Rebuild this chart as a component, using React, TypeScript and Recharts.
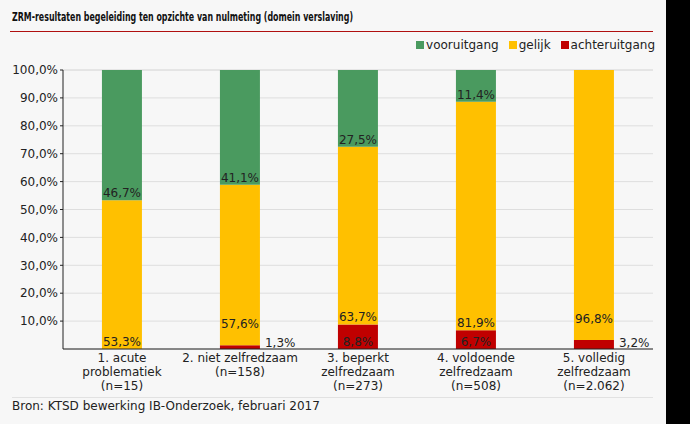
import { BarChart, Bar, XAxis, YAxis, CartesianGrid, LabelList } from "recharts";

const categories = [
  ["1. acute", "problematiek", "(n=15)"],
  ["2. niet zelfredzaam", "(n=158)"],
  ["3. beperkt", "zelfredzaam", "(n=273)"],
  ["4. voldoende", "zelfredzaam", "(n=508)"],
  ["5. volledig", "zelfredzaam", "(n=2.062)"],
];
const achteruitgang = [0, 1.3, 8.8, 6.7, 3.2];
const gelijk = [53.3, 57.6, 63.7, 81.9, 96.8];
const vooruitgang = [46.7, 41.1, 27.5, 11.4, 0];
const yTicks = [10, 20, 30, 40, 50, 60, 70, 80, 90, 100];

const GREEN = "#4a9a5f";
const YELLOW = "#ffc000";
const RED = "#c00000";
const FONT = "'DejaVu Sans', Verdana, sans-serif";

const data = categories.map((c, i) => ({
  name: i,
  achteruitgang: achteruitgang[i],
  gelijk: gelijk[i],
  vooruitgang: vooruitgang[i],
}));

const fmt = (v: number) => v.toFixed(1).replace(".", ",") + "%";

// label at the bottom of each segment; tiny segments get theirs to the right of the bar
// (LabelList dataKey="name" so value = category index)
const makeLabel = (values: number[], below: number[] | null) => (props: any) => {
  const { x, y, width, height, value } = props;
  const i = Number(value);
  const v = values[i];
  if (!v) return null;
  const bottom = Number(y) + Number(height);
  if (v < 5) {
    return (
      <text x={Number(x) + Number(width) + 5} y={bottom - 2} fontSize={12} fontFamily={FONT} fill="#222">
        {fmt(v)}
      </text>
    );
  }
  const lift = below && below[i] > 0 && below[i] < 5 ? 14 : 0;
  return (
    <text
      x={Number(x) + Number(width) / 2}
      y={bottom - 3 - lift}
      textAnchor="middle"
      fontSize={12}
      fontFamily={FONT}
      fill="#222"
    >
      {fmt(v)}
    </text>
  );
};

const CategoryTick = (props: any) => {
  const { x, y, payload } = props;
  const lines = categories[payload.value] || [];
  return (
    <text x={x} y={y + 5} textAnchor="middle" fontSize={12} fontFamily={FONT} fill="#222">
      {lines.map((l, i) => (
        <tspan key={i} x={x} dy={i === 0 ? 0 : 14}>
          {l}
        </tspan>
      ))}
    </text>
  );
};

const legendItems = [
  { label: "vooruitgang", color: GREEN },
  { label: "gelijk", color: YELLOW },
  { label: "achteruitgang", color: RED },
];

export default function App() {
  return (
    <div style={{ position: "fixed", left: 0, top: 0, width: 690, height: 424, background: "#000" }}>
      <div style={{ position: "absolute", left: 0, top: 0, width: 666, height: 424, background: "#f7f7f7" }}>
        <svg style={{ position: "absolute", left: 0, top: 0 }} width={666} height={30}>
          <text
            x={12}
            y={21}
            textLength={341}
            lengthAdjust="spacingAndGlyphs"
            fontFamily="'DejaVu Sans Condensed', 'DejaVu Sans', sans-serif"
            fontWeight="bold"
            fontSize={13}
            fill="#111"
          >
            ZRM-resultaten begeleiding ten opzichte van nulmeting (domein verslaving)
          </text>
        </svg>
        <div style={{ position: "absolute", left: 10, top: 31, width: 643, height: 1, background: "#b01010" }} />
        <div
          style={{
            position: "absolute",
            right: 11,
            top: 38,
            display: "flex",
            gap: 10,
            fontFamily: FONT,
            fontSize: 12,
            color: "#222",
          }}
        >
          {legendItems.map((it) => (
            <span key={it.label} style={{ display: "flex", alignItems: "center", gap: 2 }}>
              <span style={{ width: 8, height: 8, background: it.color, display: "inline-block" }} />
              {it.label}
            </span>
          ))}
        </div>
        <BarChart
          width={666}
          height={424}
          data={data}
          margin={{ top: 70, right: 13, bottom: 0, left: 8 }}
          barCategoryGap="33%"
        >
          <CartesianGrid vertical={false} stroke="#dedede" />
          <XAxis
            dataKey="name"
            height={75}
            tick={<CategoryTick />}
            tickLine={false}
            axisLine={{ stroke: "#222" }}
            interval={0}
          />
          <YAxis
            width={55}
            domain={[0, 100]}
            ticks={yTicks}
            tickFormatter={(v: number) => fmt(v)}
            tick={{ fontSize: 12, fontFamily: FONT, fill: "#222" }}
            tickSize={3}
            tickLine={{ stroke: "#222" }}
            axisLine={{ stroke: "#222" }}
          />
          <Bar dataKey="achteruitgang" stackId="a" fill={RED} isAnimationActive={false}>
            <LabelList dataKey="name" content={makeLabel(achteruitgang, null)} />
          </Bar>
          <Bar dataKey="gelijk" stackId="a" fill={YELLOW} isAnimationActive={false}>
            <LabelList dataKey="name" content={makeLabel(gelijk, achteruitgang)} />
          </Bar>
          <Bar dataKey="vooruitgang" stackId="a" fill={GREEN} isAnimationActive={false}>
            <LabelList dataKey="name" content={makeLabel(vooruitgang, gelijk)} />
          </Bar>
        </BarChart>
        <div style={{ position: "absolute", left: 12, top: 397, width: 641, height: 1, background: "#e2e2e2" }} />
        <div
          style={{
            position: "absolute",
            left: 12,
            top: 399,
            fontFamily: FONT,
            fontSize: 12,
            color: "#222",
            whiteSpace: "nowrap",
          }}
        >
          Bron: KTSD bewerking IB-Onderzoek, februari 2017
        </div>
      </div>
    </div>
  );
}
